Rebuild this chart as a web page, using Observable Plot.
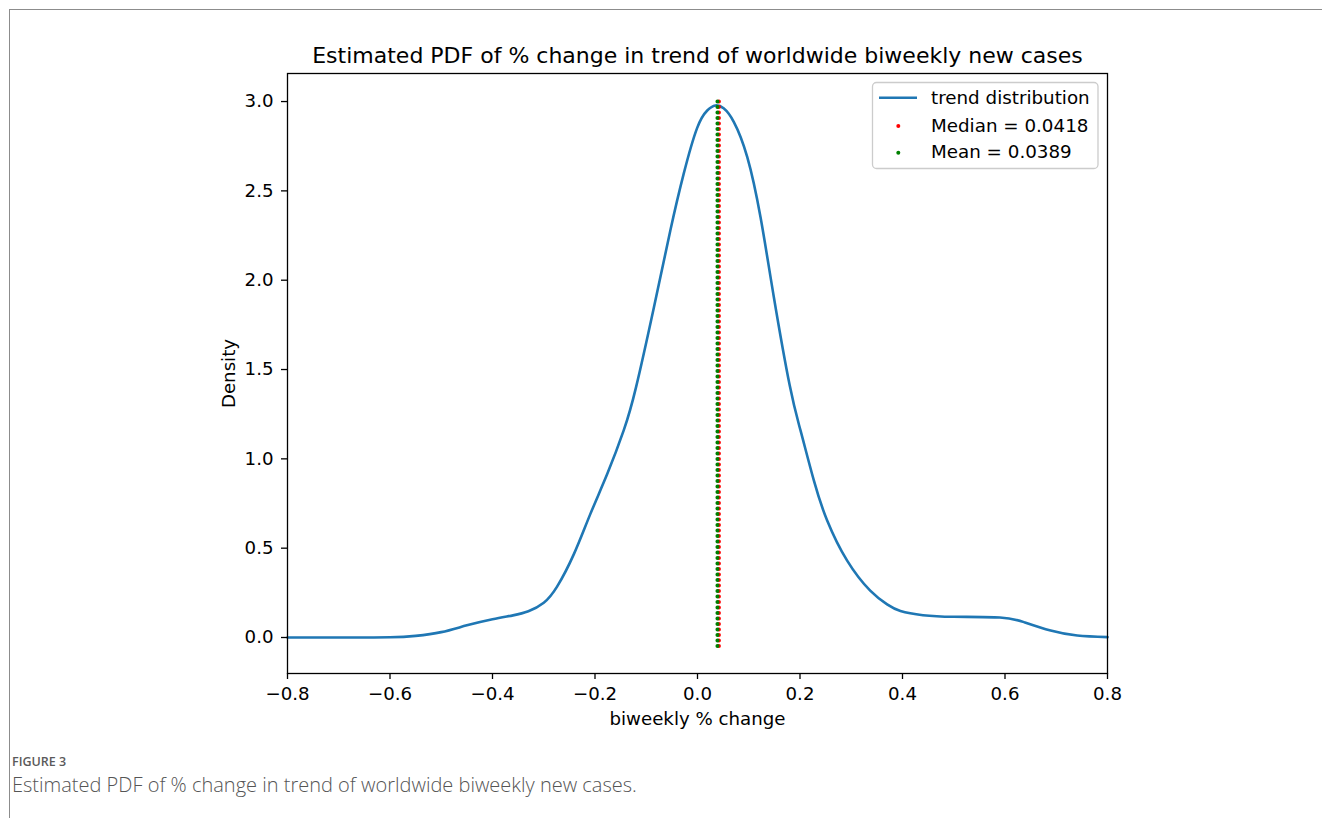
<!DOCTYPE html>
<html>
<head>
<meta charset="utf-8">
<script src="https://cdn.jsdelivr.net/npm/d3@7"></script>
<script src="https://cdn.jsdelivr.net/npm/@observablehq/plot@0.6"></script>
<style>
  html, body { margin: 0; padding: 0; background: white; }
  #page { position: relative; width: 1322px; height: 818px; overflow: hidden; background: white; }
  #border { position: absolute; left: 9px; top: 9px; width: 1400px; height: 900px;
            border-top: 1.5px solid #8c8c8c; border-left: 1.5px solid #8c8c8c; }
  #chart { position: absolute; left: 0; top: 0; }
  #legend { position: absolute; left: 0; top: 0; }
  #chart svg text, #legend text { font-family: 'DejaVu Sans', 'DejaVu Sans Book', sans-serif; }
  .figlabel { position: absolute; left: 12px; top: 756px; font-family: "Open Sans", sans-serif;
              font-size: 12.5px; font-weight: 600; color: #5a5a5a; line-height: 1; }
  .figcap { position: absolute; left: 12px; top: 775px; font-family: "Open Sans", sans-serif;
            font-size: 20px; font-weight: 300; color: #555; line-height: 1; }
</style>
</head>
<body>
<div id="page">
  <div id="border"></div>
  <div id="chart"></div>
  <div class="figlabel">FIGURE 3</div>
  <div class="figcap">Estimated PDF of % change in trend of worldwide biweekly new cases.</div>
</div>
<script>
// ---- data ----
const xs = [-0.80, -0.70, -0.60, -0.55, -0.50, -0.45, -0.40, -0.36, -0.33, -0.30,
            -0.274, -0.241, -0.209, -0.176, -0.144, -0.12, -0.085, -0.053, -0.027, -0.001,
            0.019, 0.035, 0.051, 0.071, 0.097, 0.123, 0.149, 0.18, 0.201, 0.227,
            0.253, 0.292, 0.337, 0.37, 0.396, 0.44, 0.50, 0.59, 0.637, 0.689, 0.741, 0.80];
const density = [0.000, 0.000, 0.001, 0.009, 0.030, 0.068, 0.102, 0.124, 0.147, 0.195,
                 0.285, 0.468, 0.692, 0.916, 1.159, 1.400, 1.849, 2.278, 2.595, 2.850,
                 2.950, 2.978, 2.962, 2.885, 2.690, 2.352, 1.905, 1.410, 1.159, 0.879,
                 0.655, 0.430, 0.262, 0.185, 0.148, 0.125, 0.116, 0.112, 0.086, 0.039, 0.011, 0.002];
const medianValue = 0.0418;
const meanValue = 0.0389;
const markerRange = [-0.05, 3.0];
const xTicks = [-0.8, -0.6, -0.4, -0.2, 0.0, 0.2, 0.4, 0.6, 0.8];
const yTicks = [0.0, 0.5, 1.0, 1.5, 2.0, 2.5, 3.0];
const titleText = "Estimated PDF of % change in trend of worldwide biweekly new cases";
const xLabel = "biweekly % change";
const yLabel = "Density";
const legendLabels = ["trend distribution", "Median = " + medianValue.toFixed(4), "Mean = " + meanValue.toFixed(4)];

const curve = xs.map((x, i) => ({x, y: density[i]}));

const fmt = d3.format(".1f");

const chart = Plot.plot({
  width: 1322,
  height: 740,
  marginLeft: 287,
  marginRight: 215,
  marginTop: 73,
  marginBottom: 67,
  x: {domain: [-0.8, 0.8]},
  y: {domain: [-0.2015, 3.157]},
  style: {fontFamily: "'DejaVu Sans', sans-serif", fontSize: "18px", color: "black", background: "transparent", overflow: "visible"},
  marks: [
    Plot.line(curve, {x: "x", y: "y", stroke: "#1f77b4", strokeWidth: 2.6, curve: "natural"}),
    Plot.ruleX([medianValue], {x: d => d, y1: () => markerRange[0], y2: () => markerRange[1],
      stroke: "red", strokeWidth: 4, strokeDasharray: "0 5.5", strokeLinecap: "round"}),
    Plot.ruleX([meanValue], {x: d => d, y1: () => markerRange[0], y2: () => markerRange[1],
      stroke: "#008000", strokeWidth: 4, strokeDasharray: "0 5.5", strokeLinecap: "round"}),
    Plot.frame({stroke: "black", strokeWidth: 1.3}),
    Plot.axisX({ticks: xTicks, tickFormat: fmt, tickSize: 6, tickPadding: 8, label: null, fontSize: 18.2, strokeWidth: 1.3}),
    Plot.axisY({ticks: yTicks, tickFormat: fmt, tickSize: 6, tickPadding: 8, label: null, fontSize: 18.2, strokeWidth: 1.3}),
    Plot.text([titleText], {text: d => d, frameAnchor: "top", lineAnchor: "bottom", dy: -11, fontSize: 22}),
    Plot.text([xLabel], {text: d => d, frameAnchor: "bottom", lineAnchor: "middle", dy: 46, fontSize: 18.2}),
    Plot.text([yLabel], {text: d => d, frameAnchor: "left", textAnchor: "middle", lineAnchor: "middle", rotate: -90, dx: -58, fontSize: 18.2})
  ]
});
document.getElementById("chart").appendChild(chart);

// legend overlay (drawn with d3 in its own svg)
const lg = d3.select("#page").append("svg").attr("id", "legend")
  .attr("width", 1322).attr("height", 740);
lg.append("rect").attr("x", 872.5).attr("y", 82.5).attr("width", 225.5).attr("height", 86)
  .attr("rx", 4).attr("fill", "rgba(255,255,255,0.8)").attr("stroke", "#cccccc").attr("stroke-width", 1.3);
lg.append("line").attr("x1", 879).attr("x2", 917).attr("y1", 97.7).attr("y2", 97.7)
  .attr("stroke", "#1f77b4").attr("stroke-width", 2.6);
lg.append("circle").attr("cx", 898.3).attr("cy", 126).attr("r", 2).attr("fill", "red");
lg.append("circle").attr("cx", 898.3).attr("cy", 152.7).attr("r", 2).attr("fill", "#008000");
const baselines = [103.5, 131.5, 158.2];
legendLabels.forEach((t, i) => {
  lg.append("text").attr("x", 931).attr("y", baselines[i]).text(t)
    .attr("font-size", 18.3).attr("fill", "black");
});
</script>
</body>
</html>
